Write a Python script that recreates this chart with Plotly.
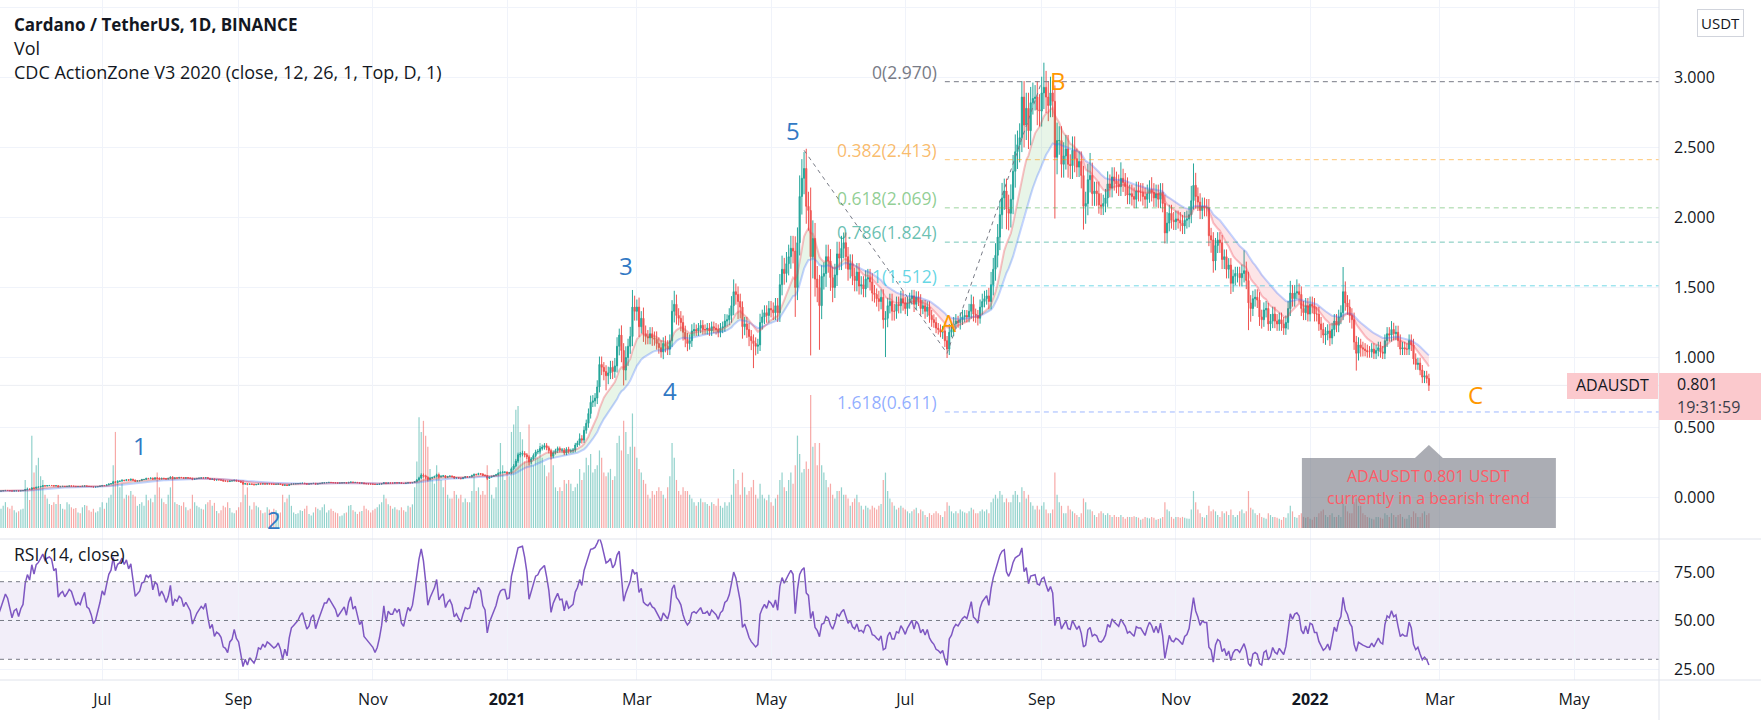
import pandas as pd
import numpy as np
import plotly.graph_objects as go

# ------------------------------------------------------------------ data
START = "2020-04-15"   # first daily bar (a few weeks sit left of the visible window)

close_2020 = [
    0.0330, 0.0345, 0.0342, 0.0350, 0.0340, 0.0330, 0.0335, 0.0350, 0.0365, 0.0370, 0.0375, 0.0385, 0.0380, 0.0385, 0.0420, 0.0475,  # Apr 15-30
    0.0490, 0.0505, 0.0490, 0.0500, 0.0495, 0.0500, 0.0520, 0.0515, 0.0510, 0.0450, 0.0435, 0.0450, 0.0470, 0.0480,
    0.0455, 0.0470, 0.0490, 0.0505, 0.0498, 0.0480, 0.0462, 0.0478, 0.0482, 0.0468, 0.0485, 0.0495, 0.0560, 0.0600, 0.0590, 0.0680, 0.0660,  # May
    0.0730, 0.0750, 0.0790, 0.0840, 0.0825, 0.0850, 0.0860, 0.0855, 0.0830, 0.0845, 0.0770, 0.0790, 0.0800, 0.0785, 0.0800,
    0.0820, 0.0815, 0.0800, 0.0780, 0.0790, 0.0785, 0.0810, 0.0830, 0.0795, 0.0790, 0.0775, 0.0750, 0.0760, 0.0785, 0.0815,  # Jun
    0.086, 0.085, 0.090, 0.096, 0.099, 0.112, 0.108, 0.115, 0.117, 0.123, 0.121, 0.127, 0.124, 0.130, 0.124, 0.117,
    0.119, 0.121, 0.128, 0.129, 0.136, 0.135, 0.138, 0.132, 0.139, 0.138, 0.133, 0.137, 0.135, 0.132, 0.136,  # Jul
    0.145, 0.135, 0.140, 0.139, 0.143, 0.142, 0.138, 0.141, 0.139, 0.137, 0.130, 0.133, 0.136, 0.138, 0.140, 0.139,
    0.142, 0.136, 0.130, 0.132, 0.125, 0.127, 0.126, 0.124, 0.118, 0.117, 0.114, 0.118, 0.119, 0.123, 0.118,  # Aug
    0.116, 0.109, 0.096, 0.099, 0.093, 0.096, 0.094, 0.091, 0.093, 0.097, 0.096, 0.098, 0.096, 0.098, 0.097,
    0.096, 0.0945, 0.095, 0.096, 0.093, 0.087, 0.090, 0.086, 0.092, 0.096, 0.097, 0.098, 0.099, 0.101, 0.102,  # Sep
    0.099, 0.096, 0.097, 0.100, 0.101, 0.096, 0.0985, 0.101, 0.104, 0.106, 0.106, 0.108, 0.107, 0.106, 0.105, 0.103,
    0.104, 0.105, 0.106, 0.104, 0.108, 0.110, 0.107, 0.108, 0.106, 0.103, 0.104, 0.099, 0.098, 0.097, 0.096,  # Oct
    0.095, 0.093, 0.094, 0.096, 0.099, 0.105, 0.100, 0.104, 0.103, 0.103, 0.105, 0.104, 0.105, 0.101, 0.100,
    0.103, 0.106, 0.105, 0.107, 0.113, 0.125, 0.140, 0.160, 0.155, 0.145, 0.130, 0.138, 0.143, 0.150, 0.162,  # Nov
    0.147, 0.152, 0.155, 0.144, 0.150, 0.153, 0.149, 0.139, 0.142, 0.138, 0.135, 0.142, 0.148, 0.147, 0.148, 0.157,
    0.165, 0.164, 0.170, 0.168, 0.159, 0.156, 0.137, 0.146, 0.151, 0.157, 0.162, 0.172, 0.179, 0.181, 0.181,  # Dec
]
close_2021 = [
    0.175, 0.176, 0.205, 0.225, 0.260, 0.305, 0.310, 0.315, 0.305, 0.290, 0.255, 0.275, 0.300, 0.325, 0.330, 0.350,
    0.360, 0.370, 0.355, 0.335, 0.295, 0.320, 0.335, 0.350, 0.338, 0.340, 0.318, 0.345, 0.330, 0.335, 0.340,  # Jan
    0.375, 0.390, 0.420, 0.410, 0.480, 0.530, 0.600, 0.680, 0.690, 0.710, 0.790, 0.950, 0.930, 0.900,
    0.870, 0.890, 0.930, 0.900, 0.940, 1.080, 1.160, 1.050, 0.910, 1.000, 1.080, 1.150, 1.360, 1.330,  # Feb
    1.36, 1.22, 1.28, 1.17, 1.15, 1.14, 1.17, 1.14, 1.13, 1.10, 1.07, 1.04, 1.10, 1.08, 1.06, 1.12,
    1.33, 1.38, 1.30, 1.28, 1.25, 1.18, 1.13, 1.10, 1.12, 1.19, 1.20, 1.19, 1.21, 1.23, 1.20,  # Mar
    1.20, 1.21, 1.19, 1.22, 1.21, 1.20, 1.18, 1.21, 1.22, 1.26, 1.27, 1.30, 1.37, 1.47, 1.45,
    1.40, 1.36, 1.22, 1.24, 1.20, 1.15, 1.12, 1.10, 1.08, 1.09, 1.25, 1.29, 1.32, 1.30, 1.35,  # Apr
    1.34, 1.32, 1.37, 1.32, 1.52, 1.63, 1.60, 1.67, 1.72, 1.78, 1.76, 1.50, 1.82, 2.15, 2.28, 2.35,
    2.08, 2.05, 1.72, 1.85, 1.56, 1.50, 1.37, 1.58, 1.60, 1.72, 1.69, 1.57, 1.50, 1.59, 1.74,  # May
    1.71, 1.78, 1.82, 1.72, 1.63, 1.67, 1.58, 1.55, 1.61, 1.51, 1.52, 1.49, 1.56, 1.57, 1.54,
    1.46, 1.45, 1.42, 1.40, 1.43, 1.27, 1.28, 1.37, 1.40, 1.33, 1.33, 1.38, 1.37, 1.42, 1.39,  # Jun
    1.35, 1.39, 1.42, 1.44, 1.38, 1.43, 1.41, 1.35, 1.37, 1.33, 1.36, 1.30, 1.27, 1.25, 1.21, 1.20,
    1.18, 1.19, 1.12, 1.06, 1.18, 1.20, 1.24, 1.26, 1.25, 1.27, 1.29, 1.30, 1.29, 1.33, 1.38,  # Jul
    1.31, 1.30, 1.28, 1.36, 1.40, 1.42, 1.44, 1.40, 1.52, 1.63, 1.73, 1.86, 2.02, 2.14, 2.19, 2.06,
    2.03, 2.13, 2.33, 2.47, 2.52, 2.57, 2.86, 2.66, 2.78, 2.62, 2.82, 2.85, 2.86, 2.77, 2.76,  # Aug
    2.89, 2.93, 2.86, 2.80, 2.89, 2.83, 2.43, 2.55, 2.55, 2.38, 2.44, 2.49, 2.38, 2.37, 2.48,
    2.42, 2.36, 2.40, 2.30, 2.08, 2.10, 2.27, 2.30, 2.17, 2.19, 2.17, 2.09, 2.08, 2.10, 2.14,  # Sep
    2.24, 2.21, 2.29, 2.26, 2.24, 2.22, 2.28, 2.25, 2.22, 2.16, 2.17, 2.15, 2.13, 2.19, 2.18, 2.18,
    2.15, 2.13, 2.17, 2.20, 2.18, 2.14, 2.17, 2.13, 2.18, 2.10, 1.89, 1.96, 2.03, 1.98, 1.97,  # Oct
    1.99, 1.98, 1.96, 1.94, 1.98, 1.99, 2.02, 2.12, 2.23, 2.15, 2.11, 2.05, 2.08, 2.07, 2.07,
    1.87, 1.84, 1.69, 1.80, 1.84, 1.82, 1.70, 1.72, 1.63, 1.66, 1.53, 1.58, 1.60, 1.60, 1.57,  # Nov
    1.60, 1.62, 1.55, 1.39, 1.35, 1.42, 1.43, 1.41, 1.29, 1.27, 1.34, 1.35, 1.24, 1.26, 1.31, 1.26,
    1.24, 1.27, 1.24, 1.21, 1.25, 1.35, 1.46, 1.42, 1.46, 1.47, 1.45, 1.35, 1.32, 1.37, 1.31,  # Dec
]
close_2022 = [
    1.38, 1.37, 1.31, 1.31, 1.24, 1.20, 1.16, 1.17, 1.19, 1.14, 1.20, 1.26, 1.23, 1.29, 1.32, 1.47,
    1.39, 1.36, 1.30, 1.27, 1.11, 1.03, 1.09, 1.07, 1.06, 1.05, 1.04, 1.04, 1.06, 1.03, 1.05,  # Jan
    1.07, 1.04, 1.03, 1.12, 1.17, 1.16, 1.20, 1.17, 1.18, 1.12, 1.06, 1.07,
    1.06, 1.06, 1.12, 1.09, 0.99, 0.95, 0.96, 0.91, 0.86, 0.87, 0.85, 0.801,  # Feb 1-24
]

# upper / lower shadow of each candle, % beyond the body
upper_wick_2020 = [
    3, 2, 3, 2, 3, 2, 2, 3, 2, 3, 2, 3, 2, 2, 4, 5,
    3, 3, 4, 2, 3, 2, 3, 2, 3, 2, 4, 3, 2, 3, 3, 2, 3, 4, 3, 2, 2, 3, 2, 3, 2, 3, 5, 4, 4, 5, 6,
    4, 3, 4, 5, 3, 3, 2, 3, 3, 2, 2, 3, 2, 3, 2, 3, 2, 2, 3, 2, 3, 3, 4, 2, 2, 3, 2, 3, 3, 4,
    3, 3, 4, 4, 3, 6, 5, 4, 3, 5, 3, 4, 3, 4, 3, 3, 3, 2, 4, 3, 4, 3, 4, 3, 4, 3, 3, 3, 3, 3, 4,
    4, 5, 3, 3, 3, 3, 3, 3, 3, 2, 3, 3, 3, 3, 3, 3, 3, 3, 3, 3, 3, 2, 3, 2, 3, 3, 3, 3, 3, 3, 3,
    3, 4, 3, 4, 4, 3, 3, 3, 3, 3, 3, 3, 3, 2, 3, 2, 2, 2, 3, 2, 3, 3, 3, 3, 3, 2, 2, 2, 3, 3,
    3, 3, 3, 3, 3, 3, 2, 3, 3, 3, 2, 3, 3, 3, 2, 2, 2, 2, 2, 3, 3, 3, 3, 2, 2, 2, 2, 3, 3, 2, 2,
    3, 3, 3, 3, 4, 4, 3, 3, 3, 3, 3, 3, 3, 3, 2, 3, 3, 3, 3, 4, 5, 6, 8, 7, 5, 4, 5, 4, 4, 5,
    4, 4, 4, 3, 3, 3, 3, 3, 3, 3, 3, 3, 3, 3, 3, 4, 4, 3, 4, 3, 3, 3, 3, 3, 3, 3, 4, 4, 4, 4, 3,
]
lower_wick_2020 = [
    2, 3, 2, 3, 2, 3, 2, 2, 3, 2, 3, 2, 3, 2, 2, 3,
    3, 2, 3, 3, 2, 2, 3, 2, 3, 9, 4, 3, 2, 3, 2, 3, 2, 3, 2, 3, 3, 2, 2, 3, 2, 2, 3, 4, 3, 3, 5,
    3, 3, 2, 3, 4, 3, 3, 2, 3, 3, 6, 3, 2, 3, 4, 2, 3, 2, 3, 2, 2, 3, 2, 3, 2, 3, 3, 2, 2, 3,
    3, 3, 2, 3, 3, 3, 5, 3, 3, 3, 4, 3, 4, 3, 4, 5, 3, 3, 2, 3, 3, 3, 3, 4, 3, 3, 4, 3, 3, 3, 3,
    3, 6, 3, 3, 3, 2, 3, 3, 3, 3, 5, 3, 2, 3, 3, 2, 3, 3, 4, 3, 4, 3, 2, 3, 4, 3, 4, 3, 2, 3, 3,
    4, 4, 6, 4, 6, 3, 3, 4, 3, 3, 3, 2, 3, 2, 3, 3, 3, 2, 2, 3, 5, 3, 4, 3, 3, 2, 2, 2, 3, 3,
    3, 4, 3, 2, 2, 4, 3, 2, 3, 3, 3, 2, 3, 3, 3, 3, 2, 2, 2, 3, 3, 2, 3, 3, 2, 3, 3, 4, 3, 3, 3,
    3, 3, 3, 2, 3, 3, 5, 3, 3, 3, 3, 2, 3, 4, 3, 3, 3, 3, 3, 3, 3, 4, 5, 8, 8, 12, 6, 5, 4, 4,
    6, 4, 4, 5, 3, 3, 3, 5, 3, 3, 4, 3, 3, 3, 3, 3, 3, 4, 3, 4, 4, 3, 9, 4, 3, 3, 3, 3, 4, 4, 4,
]
upper_wick_2021 = [
    3, 4, 5, 6, 6, 5, 5, 6, 5, 4, 4, 5, 5, 5, 5, 5, 5, 5, 5, 4, 4, 5, 4, 4, 4, 4, 4, 4, 5, 4, 4,
    4, 4, 9, 6, 6, 5, 6, 7, 6, 5, 6, 6, 6, 4, 5, 5, 5, 5, 6, 6, 4, 6, 5, 8, 5, 6, 9, 6,
    4, 5, 4, 6, 5, 4, 4, 4, 4, 5, 4, 5, 4, 5, 4, 4, 6, 7, 5, 4, 4, 4, 4, 4, 4, 4, 4, 3, 3, 3, 3,
    3, 3, 3, 3, 3, 3, 3, 3, 3, 4, 3, 4, 5, 6, 4, 4, 4, 3, 4, 4, 4, 4, 4, 4, 4, 5, 4, 4, 4, 4,
    4, 4, 4, 4, 5, 6, 5, 5, 5, 5, 5, 6, 6, 7, 6, 5, 6, 5, 8, 7, 6, 6, 6, 5, 5, 5, 5, 5, 5, 5, 5,
    5, 5, 4, 4, 4, 4, 4, 4, 4, 4, 4, 4, 4, 4, 4, 4, 4, 3, 4, 4, 4, 4, 4, 4, 4, 4, 4, 4, 4, 4,
    3, 3, 3, 3, 3, 3, 3, 3, 3, 3, 3, 3, 3, 3, 3, 3, 3, 3, 3, 3, 5, 4, 4, 4, 3, 4, 4, 3, 3, 4, 5,
    4, 3, 3, 4, 4, 4, 3, 4, 6, 5, 5, 5, 5, 5, 4, 4, 5, 5, 5, 5, 4, 4, 4, 4, 4, 4, 4, 4, 3, 4, 4,
    4, 6, 4, 4, 4, 3, 4, 5, 4, 4, 4, 4, 4, 3, 4, 4, 3, 3, 3, 3, 4, 5, 7, 4, 3, 3, 4, 4, 3, 3,
    4, 3, 3, 3, 3, 3, 5, 3, 3, 3, 3, 3, 3, 3, 3, 3, 3, 3, 3, 3, 4, 3, 3, 3, 3, 3, 3, 4, 3, 3, 3,
    3, 3, 3, 3, 3, 3, 3, 5, 7, 4, 3, 3, 3, 3, 3, 3, 3, 3, 3, 3, 3, 3, 3, 3, 3, 3, 3, 3, 3, 3,
    4, 9, 4, 4, 4, 4, 4, 4, 4, 4, 4, 4, 3, 4, 4, 4, 4, 4, 4, 4, 4, 4, 6, 4, 4, 6, 4, 4, 4, 4, 4,
]
lower_wick_2021 = [
    4, 4, 4, 5, 4, 5, 6, 5, 6, 5, 10, 6, 4, 4, 5, 5, 4, 5, 5, 6, 8, 5, 4, 5, 5, 5, 5, 5, 5, 4, 5,
    5, 4, 5, 6, 5, 5, 6, 6, 5, 6, 6, 5, 6, 7, 12, 7, 5, 6, 5, 5, 6, 8, 12, 8, 6, 5, 6, 5,
    5, 6, 4, 5, 5, 4, 4, 5, 4, 4, 4, 4, 5, 4, 4, 4, 4, 6, 5, 4, 5, 5, 5, 5, 4, 4, 3, 3, 3, 3, 3,
    3, 3, 3, 3, 3, 3, 3, 3, 3, 3, 3, 3, 4, 5, 5, 9, 6, 7, 5, 5, 6, 6, 16, 6, 5, 4, 4, 4, 4, 4,
    4, 4, 4, 5, 5, 5, 5, 4, 5, 5, 5, 14, 6, 5, 6, 5, 6, 7, 41, 9, 8, 7, 23, 7, 6, 6, 5, 6, 7, 5, 5,
    5, 5, 4, 5, 5, 4, 4, 5, 5, 4, 4, 4, 4, 4, 4, 4, 4, 4, 5, 4, 5, 21, 5, 4, 5, 5, 4, 4, 4, 4,
    3, 4, 3, 3, 4, 3, 3, 4, 3, 4, 3, 4, 4, 3, 3, 3, 3, 4, 4, 6, 4, 3, 4, 3, 3, 4, 3, 3, 3, 3, 4,
    4, 4, 4, 3, 4, 3, 3, 4, 4, 5, 5, 5, 5, 5, 4, 7, 6, 5, 5, 5, 5, 5, 4, 6, 4, 5, 4, 3, 3, 4, 4,
    4, 4, 4, 4, 3, 4, 18, 5, 4, 4, 4, 4, 4, 4, 4, 4, 3, 3, 4, 8, 6, 4, 4, 4, 4, 4, 3, 3, 3, 3,
    3, 3, 3, 3, 3, 3, 3, 3, 3, 3, 3, 3, 3, 3, 3, 3, 3, 3, 3, 3, 3, 3, 3, 3, 3, 3, 4, 4, 3, 3, 3,
    3, 3, 3, 3, 3, 3, 3, 3, 3, 4, 3, 3, 3, 3, 3, 4, 5, 5, 4, 3, 4, 4, 4, 4, 4, 5, 4, 4, 4, 4,
    4, 4, 4, 14, 7, 4, 4, 4, 5, 5, 4, 4, 4, 4, 4, 4, 4, 4, 4, 4, 4, 4, 4, 4, 4, 3, 4, 4, 4, 4, 4,
]
upper_wick_2022 = [
    4, 4, 4, 4, 4, 4, 4, 4, 4, 4, 4, 4, 4, 4, 4, 12, 5, 4, 4, 4, 4, 4, 5, 4, 4, 4, 4, 4, 4, 4, 4,
    4, 4, 4, 4, 4, 4, 5, 4, 4, 4, 4, 4, 4, 4, 4, 4, 4, 4, 4, 4, 4, 4, 4, 4,
]
lower_wick_2022 = [
    4, 4, 4, 4, 4, 5, 5, 6, 4, 5, 4, 4, 4, 4, 4, 4, 4, 4, 4, 5, 5, 12, 5, 6, 5, 4, 4, 4, 4, 4, 4,
    4, 4, 4, 4, 4, 4, 4, 4, 4, 4, 4, 4, 4, 4, 4, 4, 4, 4, 4, 4, 5, 5, 4, 5,
]

# daily volume, millions of ADA
volume_2020 = [
    380, 420, 350, 300, 280, 360, 330, 390, 410, 380, 340, 420, 390, 400, 650, 900,
    820, 700, 520, 560, 480, 450, 600, 520, 480, 900, 700, 560, 520, 480,
    450, 520, 600, 700, 560, 520, 600, 480, 420, 450, 500, 520, 1300, 1100, 760, 2500, 1500,
    1700, 1900, 1400, 1300, 900, 800, 650, 620, 700, 650, 900, 650, 520, 500, 700, 640, 560, 520, 540, 420,
    400, 560, 620, 600, 480, 440, 520, 420, 450, 560,
    700, 520, 680, 820, 900, 1700, 2600, 1300, 1100, 1200, 800, 900, 880, 1000, 900, 850, 600, 650, 700, 600,
    900, 750, 800, 700, 900, 1500, 1100, 800, 700, 650, 900,
    1100, 1300, 700, 650, 620, 600, 700, 560, 480, 520, 900, 700, 600, 560, 520, 500, 640, 700, 760, 600,
    680, 460, 400, 480, 600, 560, 700, 540, 420, 400, 480,
    560, 700, 1300, 900, 1100, 600, 500, 700, 600, 560, 480, 400, 420, 560, 500, 440, 520, 480, 400, 420,
    900, 700, 800, 900, 600, 420, 380, 400, 480, 460,
    520, 600, 380, 340, 420, 560, 520, 480, 560, 640, 420, 480, 520, 460, 420, 400, 320, 340, 400, 420,
    600, 620, 480, 440, 380, 440, 460, 600, 520, 480, 420,
    480, 520, 560, 640, 700, 900, 800, 640, 600, 520, 560, 500, 480, 560, 480, 440, 600, 560, 640, 1100,
    1800, 3000, 2600, 2900, 2500, 2200, 1600, 1300, 1200, 1700,
    1500, 1300, 1100, 1300, 900, 800, 800, 1000, 900, 800, 900, 700, 800, 700, 700, 1000, 1400, 1000, 1100, 900,
    1000, 900, 1700, 1300, 900, 800, 1100, 1600, 2300, 1700, 1300,
]
volume_2021 = [
    1500, 1400, 2600, 2800, 3200, 3300, 2600, 2400, 1800, 1900, 2800, 1900, 1700, 2000, 1900, 2300,
    1900, 1700, 1400, 1500, 2000, 1700, 1100, 1000, 1100, 1000, 1300, 1200, 1300, 1200, 1000,
    1100, 1200, 1600, 1300, 1500, 1900, 1700, 2000, 1500, 1600, 1700, 2100, 1900, 1500,
    1400, 1500, 1600, 1300, 1400, 2300, 2500, 2100, 2900, 2600, 2000, 2200, 3100, 2200,
    1900, 1600, 1500, 1300, 1200, 900, 800, 1000, 900, 1000, 1100, 1000, 900, 800, 1100, 1400,
    2300, 1900, 1300, 1000, 900, 1100, 1000, 1000, 900, 800, 700, 600, 700, 800, 700,
    700, 650, 600, 700, 650, 600, 800, 600, 550, 700, 600, 700, 900, 1600, 1200,
    1300, 900, 1500, 1100, 900, 1000, 1100, 1300, 900, 800, 1200, 900, 800, 750, 900,
    700, 600, 800, 900, 1300, 1500, 1100, 1000, 1300, 1500, 1200, 1700, 2500, 2000, 1500, 1600,
    1800, 1600, 3600, 2200, 2300, 1700, 2300, 1700, 1500, 1300, 1100, 1200, 900, 800, 1000,
    1000, 1100, 900, 900, 800, 600, 700, 800, 900, 700, 600, 500, 600, 550, 500,
    600, 550, 500, 600, 650, 1300, 1500, 1000, 800, 700, 600, 500, 550, 600, 550,
    500, 450, 400, 450, 500, 550, 400, 500, 450, 350, 300, 400, 350, 400, 450, 400,
    350, 300, 450, 700, 600, 450, 400, 450, 400, 500, 450, 420, 400, 450, 550,
    500, 400, 400, 450, 500, 450, 500, 400, 700, 800, 900, 800, 1000, 900, 700, 800,
    700, 700, 900, 1000, 900, 700, 1100, 1000, 800, 900, 700, 600, 500, 600, 500,
    600, 700, 500, 400, 400, 500, 1500, 900, 700, 600, 400, 400, 600, 500, 450,
    400, 350, 300, 400, 800, 700, 500, 500, 450, 350, 300, 400, 450, 400, 350,
    400, 350, 300, 350, 300, 300, 350, 300, 250, 300, 300, 300, 320, 300, 280, 220,
    250, 300, 280, 260, 300, 280, 220, 240, 260, 300, 700, 500, 450, 300, 250,
    300, 300, 280, 300, 280, 260, 250, 500, 1000, 700, 500, 400, 300, 280, 350,
    600, 450, 500, 450, 350, 300, 450, 400, 450, 350, 500, 350, 300, 350, 450,
    500, 400, 450, 1000, 550, 500, 400, 350, 400, 300, 280, 250, 400, 350, 300, 300,
    280, 250, 220, 300, 280, 400, 600, 450, 300, 280, 350, 400, 300, 280, 300,
]
volume_2022 = [
    250, 220, 300, 300, 400, 450, 500, 350, 300, 350, 400, 300, 300, 350, 300, 800,
    600, 450, 400, 400, 700, 800, 600, 600, 400, 350, 300, 280, 250, 230, 300,
    300, 280, 250, 400, 350, 300, 400, 350, 300, 350, 380, 300,
    250, 250, 350, 300, 450, 400, 300, 300, 400, 450, 350, 400,
]

# Elliott-wave / ABC labels drawn on the chart (date, price)
wave_text = ["1", "2", "3", "4", "5"]
wave_date = ["2020-07-18", "2020-09-17", "2021-02-24", "2021-03-16", "2021-05-11"]
wave_price = [0.368, -0.154, 1.66, 0.762, 2.623]
abc_text = ["A", "B", "C"]
abc_date = ["2021-07-21", "2021-09-08 12:00", "2022-03-17"]
abc_price = [1.251, 2.976, 0.738]

# dashed swing path 5 -> A -> B
path_date = ["2021-05-16", "2021-07-20", "2021-09-01"]
path_price = [2.48, 1.03, 2.97]

# Fibonacci retracement (drawn from B=2.970 to 1.512)
fib_high, fib_low = 2.970, 1.512
fib_start = "2021-07-19"
fib_ratios = [0, 0.382, 0.618, 0.786, 1, 1.618]
fib_colors = ["rgba(120,123,134,1)", "rgba(255,152,0,0.55)", "rgba(76,175,80,0.55)",
              "rgba(8,153,129,0.55)", "rgba(0,188,212,0.55)", "rgba(41,98,255,0.45)"]
fib_text_colors = ["#787b86", "rgba(245,145,10,0.62)", "rgba(76,175,80,0.62)",
                   "rgba(8,153,129,0.62)", "rgba(0,188,212,0.62)", "rgba(41,98,255,0.52)"]

month_ticks = ["2020-07-01", "2020-09-01", "2020-11-01", "2021-01-01", "2021-03-01", "2021-05-01",
               "2021-07-01", "2021-09-01", "2021-11-01", "2022-01-01", "2022-03-01", "2022-05-01"]
month_text = ["Jul", "Sep", "Nov", "<b>2021</b>", "Mar", "May", "Jul", "Sep", "Nov", "<b>2022</b>", "Mar", "May"]
price_ticks = [0, 0.5, 1.0, 1.5, 2.0, 2.5, 3.0, 3.5]
rsi_ticks = [25, 50, 75]

# ------------------------------------------------------------------ derived series
close = close_2020 + close_2021 + close_2022
n = len(close)


def fit(lst):
    lst = list(lst)[:n]
    return lst + [lst[-1]] * (n - len(lst))


upw = fit(upper_wick_2020 + upper_wick_2021 + upper_wick_2022)
dnw = fit(lower_wick_2020 + lower_wick_2021 + lower_wick_2022)
vol = fit(volume_2020 + volume_2021 + volume_2022)

dates = pd.date_range(START, periods=n, freq="D")
opn = [close[0]] + close[:-1]
high = [max(o, c) * (1 + u / 100) for o, c, u in zip(opn, close, upw)]
low = [min(o, c) * (1 - d / 100) for o, c, d in zip(opn, close, dnw)]

s = pd.Series(close, index=dates)
fast = s.ewm(span=12, adjust=False).mean()
slow = s.ewm(span=26, adjust=False).mean()
delta = s.diff().fillna(0)
gain = delta.clip(lower=0).ewm(alpha=1 / 14, adjust=False).mean()
loss = (-delta.clip(upper=0)).ewm(alpha=1 / 14, adjust=False).mean()
rsi = 100 - 100 / (1 + gain / loss.replace(0, np.nan))
rsi = rsi.fillna(100)

UP, DN = "#26a69a", "#ef5350"
GRID = "#f0f3fa"
TXT = "#131722"
FONT = "Open Sans"

# ------------------------------------------------------------------ geometry (px of the 1761x720 page)
W, H = 1761, 720
PLOT_W, PLOT_H = 1659, 680
PRICE_BOTTOM_PX = 539
dom_split = 1 - PRICE_BOTTOM_PX / PLOT_H
x_range = ["2020-05-15 13:00", "2022-06-08 14:00"]
price_range = [-0.2964, 3.5536]
vol_range = [-298, 14292]
rsi_range = [19.33, 92.0]


def px(x, y):
    return x / PLOT_W, 1 - y / PLOT_H


fig = go.Figure()

# volume (base layer, behind price)
vol_cols = ["rgba(38,166,154,0.5)" if c >= o else "rgba(239,83,80,0.5)" for o, c in zip(opn, close)]
fig.add_trace(go.Bar(x=dates, y=vol, marker=dict(color=vol_cols, line=dict(width=0)),
                     width=0.55 * 86400000, xaxis="x2", yaxis="y", hoverinfo="skip", showlegend=False))

# CDC action-zone fill between fast & slow EMA
bull = (fast > slow).values
segs = []
st = 0
for i in range(1, n):
    if bull[i] != bull[st]:
        segs.append((st, i))
        st = i
segs.append((st, n - 1))
for a, b in segs:
    xs = list(dates[a:b + 1]) + list(dates[a:b + 1])[::-1]
    ys = list(fast.values[a:b + 1]) + list(slow.values[a:b + 1])[::-1]
    col = "rgba(76,175,80,0.13)" if bull[a] else "rgba(242,54,69,0.13)"
    fig.add_trace(go.Scatter(x=xs, y=ys, fill="toself", fillcolor=col, mode="lines",
                             line=dict(width=0), xaxis="x2", yaxis="y2", hoverinfo="skip", showlegend=False))

fig.add_trace(go.Scatter(x=dates, y=slow, mode="lines", line=dict(color="rgba(41,98,255,0.28)", width=2),
                         xaxis="x2", yaxis="y2", hoverinfo="skip", showlegend=False))
fig.add_trace(go.Scatter(x=dates, y=fast, mode="lines", line=dict(color="rgba(242,54,69,0.3)", width=2),
                         xaxis="x2", yaxis="y2", hoverinfo="skip", showlegend=False))

fig.add_trace(go.Candlestick(x=dates, open=opn, high=high, low=low, close=close,
                             increasing=dict(line=dict(color=UP, width=1), fillcolor=UP),
                             decreasing=dict(line=dict(color=DN, width=1), fillcolor=DN),
                             whiskerwidth=0, xaxis="x2", yaxis="y2", hoverinfo="skip", showlegend=False))

# swing path
fig.add_trace(go.Scatter(x=pd.to_datetime(path_date), y=path_price, mode="lines",
                         line=dict(color="#787b86", width=1, dash="4px,4px"),
                         xaxis="x2", yaxis="y2", hoverinfo="skip", showlegend=False))

# fib levels
fib_end = x_range[1]
annotations = []
for r, lc, tc in zip(fib_ratios, fib_colors, fib_text_colors):
    lvl = fib_high - r * (fib_high - fib_low)
    fig.add_trace(go.Scatter(x=[pd.Timestamp(fib_start), pd.Timestamp(fib_end)], y=[lvl, lvl], mode="lines",
                             line=dict(color=lc, width=1, dash="5px,4px"),
                             xaxis="x2", yaxis="y2", hoverinfo="skip", showlegend=False))
    rtxt = f"{r:g}"
    annotations.append(dict(x=fib_start, y=lvl, xref="x2", yref="y2", text=f"{rtxt}({lvl:.3f})",
                            showarrow=False, xanchor="right", yanchor="middle", xshift=-6, yshift=10,
                            font=dict(family=FONT, size=17.5, color=tc)))

# RSI
fig.add_trace(go.Scatter(x=dates, y=rsi, mode="lines", line=dict(color="#7e57c2", width=1.5),
                         xaxis="x", yaxis="y3", hoverinfo="skip", showlegend=False))

shapes = []
# price grid
for v in price_ticks:
    shapes.append(dict(type="line", xref="paper", yref="y2", x0=0, x1=1, y0=v, y1=v,
                       line=dict(color=GRID, width=1), layer="below"))
# last-price line
shapes.append(dict(type="line", xref="paper", yref="y2", x0=0, x1=1, y0=close[-1], y1=close[-1],
                   line=dict(color="#eceef3", width=1), layer="below"))
# RSI band & levels
shapes.append(dict(type="rect", xref="paper", yref="y3", x0=0, x1=1, y0=30, y1=70,
                   fillcolor="rgba(126,87,194,0.1)", line=dict(width=0), layer="below"))
for v in [70, 50, 30]:
    shapes.append(dict(type="line", xref="paper", yref="y3", x0=0, x1=1, y0=v, y1=v,
                       line=dict(color="#787b86", width=1, dash="4px,4px")))
# pane borders
shapes.append(dict(type="line", xref="paper", yref="paper", x0=0, x1=W / PLOT_W, y0=dom_split, y1=dom_split,
                   line=dict(color="#e0e3eb", width=1)))
shapes.append(dict(type="line", xref="paper", yref="paper", x0=0, x1=W / PLOT_W, y0=0, y1=0,
                   line=dict(color="#e0e3eb", width=1)))
shapes.append(dict(type="line", xref="paper", yref="paper", x0=1, x1=1, y0=-40 / PLOT_H, y1=1,
                   line=dict(color="#e0e3eb", width=1)))

# last price tags
last = close[-1]
shapes.append(dict(type="rect", xref="paper", yref="y2", ysizemode="pixel", yanchor=last,
                   x0=1567 / PLOT_W, x1=1658 / PLOT_W, y0=-13.6, y1=12.4,
                   fillcolor="#fbc9cd", line=dict(width=0)))
shapes.append(dict(type="rect", xref="paper", yref="y2", ysizemode="pixel", yanchor=last,
                   x0=1, x1=W / PLOT_W + 0.01, y0=-34.6, y1=12.4,
                   fillcolor="#fbc9cd", line=dict(width=0)))
annotations += [
    dict(x=1612 / PLOT_W, y=last, xref="paper", yref="y2", text="ADAUSDT", showarrow=False,
         xanchor="center", yanchor="middle", yshift=0, font=dict(family=FONT, size=16, color=TXT)),
    dict(x=1675 / PLOT_W, y=last, xref="paper", yref="y2", text=f"{last:.3f}", showarrow=False,
         xanchor="left", yanchor="middle", yshift=1, font=dict(family=FONT, size=16, color=TXT)),
    dict(x=1675 / PLOT_W, y=last, xref="paper", yref="y2", text="19:31:59", showarrow=False,
         xanchor="left", yanchor="middle", yshift=-22, font=dict(family=FONT, size=16, color="#3b3f4a")),
]

# callout under the last bar
last_date = dates[-1]
_, cy0 = px(0, 528)
_, cy1 = px(0, 458)
_, tip = px(0, 445)
shapes.append(dict(type="rect", xref="x2", yref="paper", xsizemode="pixel", xanchor=last_date,
                   x0=-127, x1=127, y0=cy0, y1=cy1, fillcolor="rgba(120,123,134,0.62)", line=dict(width=0)))
shapes.append(dict(type="path", xref="x2", yref="paper", xsizemode="pixel", xanchor=last_date,
                   path=f"M -14,{cy1} L 0,{tip} L 14,{cy1} Z", fillcolor="rgba(120,123,134,0.62)",
                   line=dict(width=0)))
annotations += [
    dict(x=last_date, y=px(0, 476)[1], xref="x2", yref="paper", text=f"ADAUSDT {last:.3f} USDT",
         showarrow=False, xanchor="center", yanchor="middle", font=dict(family=FONT, size=16, color="#ff5a66")),
    dict(x=last_date, y=px(0, 498)[1], xref="x2", yref="paper", text="currently in a bearish trend",
         showarrow=False, xanchor="center", yanchor="middle", font=dict(family=FONT, size=16, color="#ff5a66")),
]

# wave labels
for t, d, p in zip(wave_text, wave_date, wave_price):
    annotations.append(dict(x=d, y=p, xref="x2", yref="y2", text=t, showarrow=False,
                            font=dict(family=FONT, size=24, color="#3179c4")))
for t, d, p in zip(abc_text, abc_date, abc_price):
    annotations.append(dict(x=d, y=p, xref="x2", yref="y2", text=t, showarrow=False,
                            font=dict(family=FONT, size=24, color="#ff9800")))

# legend texts
for (txt, ypx, bold, fs) in [("Cardano / TetherUS, 1D, BINANCE", 25, True, 17), ("Vol", 48, False, 18),
                              ("CDC ActionZone V3 2020 (close, 12, 26, 1, Top, D, 1)", 72, False, 18),
                              ("RSI (14, close)", 554, False, 17.5)]:
    xx, yy = px(12, ypx)
    annotations.append(dict(x=xx, y=yy, xref="paper", yref="paper", text=f"<b>{txt}</b>" if bold else txt,
                            showarrow=False, xanchor="left", yanchor="middle",
                            font=dict(family=FONT, size=fs, color=TXT)))

# currency tag
ux, uy = px(1721, 23)
annotations.append(dict(x=ux, y=uy, xref="paper", yref="paper", text="USDT", showarrow=False,
                        xanchor="center", yanchor="middle", bgcolor="white", bordercolor="#d1d4dc",
                        borderwidth=1, borderpad=3, font=dict(family=FONT, size=15, color=TXT)))

fig.update_layout(
    width=W, height=H, margin=dict(l=0, r=W - PLOT_W, t=0, b=H - PLOT_H),
    paper_bgcolor="white", plot_bgcolor="white", showlegend=False, hovermode=False,
    font=dict(family=FONT, size=16, color=TXT),
    xaxis=dict(domain=[0, 1], anchor="y3", range=x_range, type="date",
               tickvals=month_ticks, ticktext=month_text, showgrid=True, gridcolor=GRID,
               ticks="", showline=False, zeroline=False, ticklabelstandoff=8,
               tickfont=dict(family=FONT, size=16, color=TXT), rangeslider=dict(visible=False)),
    xaxis2=dict(domain=[0, 1], anchor="y", matches="x", range=x_range, type="date",
                tickvals=month_ticks, showticklabels=False, showgrid=True, gridcolor=GRID,
                ticks="", showline=False, zeroline=False, rangeslider=dict(visible=False)),
    yaxis=dict(domain=[dom_split, 1], anchor="x2", range=vol_range, visible=False, showgrid=False),
    yaxis2=dict(overlaying="y", anchor="x2", side="right", range=price_range,
                tickvals=price_ticks, ticktext=[f"{v:.3f}" for v in price_ticks],
                showgrid=False, zeroline=False, ticks="", showline=False, ticklabelstandoff=14,
                tickfont=dict(family=FONT, size=16, color=TXT)),
    yaxis3=dict(domain=[0, dom_split], anchor="x", side="right", range=rsi_range,
                tickvals=rsi_ticks, ticktext=[f"{v:.2f}" for v in rsi_ticks],
                showgrid=True, gridcolor=GRID, zeroline=False, ticks="", showline=False,
                ticklabelstandoff=14, tickfont=dict(family=FONT, size=16, color=TXT)),
    shapes=shapes, annotations=annotations,
)

fig.write_html("out.html")
